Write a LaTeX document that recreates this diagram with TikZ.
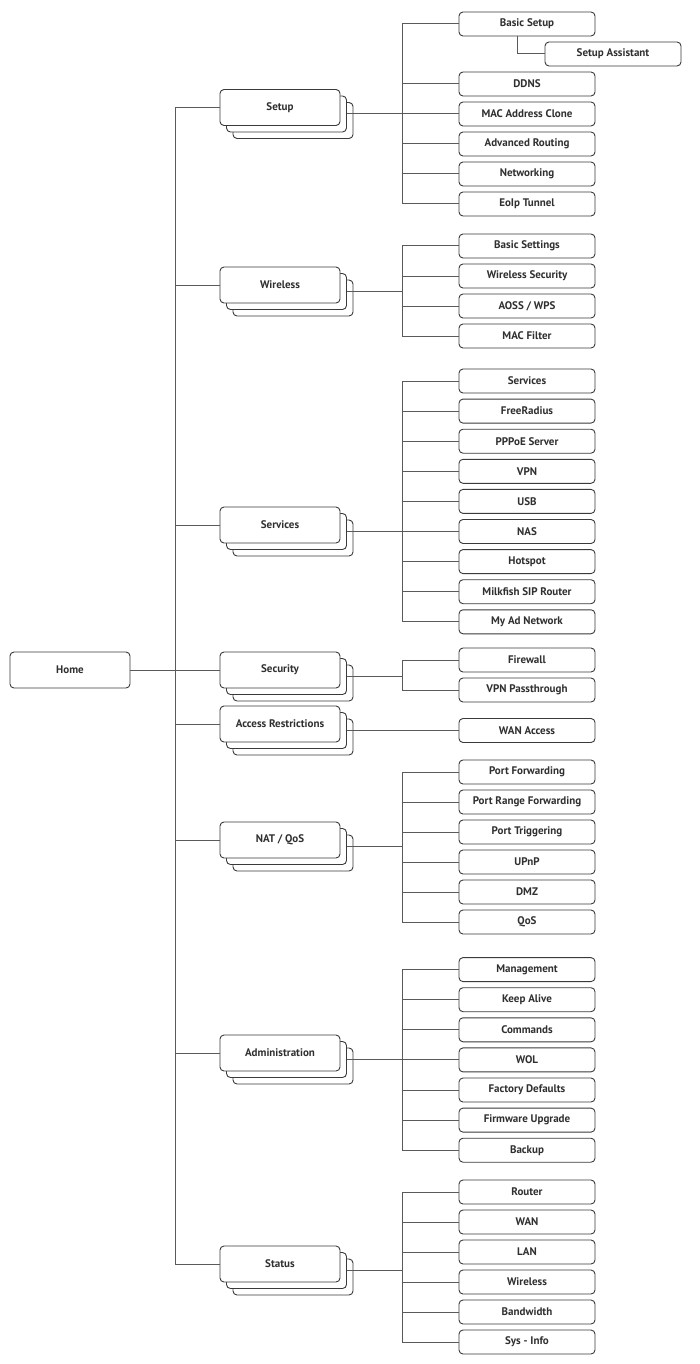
\documentclass[tikz,border=0pt]{standalone}
\usepackage{fontspec}
\setmainfont{PT Sans}
\usetikzlibrary{shadows}
\definecolor{linegray}{HTML}{5A5A5A}
\definecolor{boxgray}{HTML}{3A3A3A}
\definecolor{textgray}{HTML}{303030}

\begin{document}
\begin{tikzpicture}[x=1pt,y=-1pt,
  conn/.style={draw=linegray,line width=1pt},
  item/.style={draw=boxgray,line width=0.9pt,rounded corners=4pt,fill=white,
    minimum width=136pt,minimum height=24pt,inner sep=0pt,text=textgray,
    font=\fontsize{11}{12}\selectfont\bfseries},
  top/.style={item,minimum width=120pt,minimum height=36pt},
  group/.style={top,
    copy shadow={shadow xshift=13pt,shadow yshift=-13pt,draw=boxgray,fill=white,line width=0.9pt},
    copy shadow={shadow xshift=6.5pt,shadow yshift=-6.5pt,draw=boxgray,fill=white,line width=0.9pt}},
]
\useasboundingbox (0,0) rectangle (699,1364);

\node[top] (home) at (70,670) {Home};
\coordinate (trunk) at (175,670);

\foreach \name/\txt/\y in {setup/Setup/107.5, wireless/Wireless/285, services/Services/525,
    security/Security/670, access/Access Restrictions/724, nat/{NAT / QoS}/840,
    admin/Administration/1053, status/Status/1264} {
  \node[group] (\name) at (280,\y) {\txt};
  \coordinate (\name-bus) at (402,\y+6.5);
  \draw[conn] ([xshift=6.5pt,yshift=-6.5pt]\name.east) -- (\name-bus);
  \draw[conn] (trunk) |- (\name.west);
}
\draw[conn] (home) -- (security);

% setup
\foreach \txt/\y [count=\i] in {Basic Setup/24, DDNS/84, MAC Address Clone/114,
    Advanced Routing/144, Networking/174, EoIp Tunnel/204} {
  \node[item] (setup-\i) at (527,\y) {\txt};
  \draw[conn] (setup-bus) |- (setup-\i.west);
}
\node[item] (assistant) at (613,54) {Setup Assistant};
\draw[conn] ([xshift=-10pt]setup-1.south) |- (assistant.west);

% wireless
\foreach \txt [count=\i] in {Basic Settings, Wireless Security, {AOSS / WPS}, MAC Filter} {
  \node[item] (wireless-\i) at (527,216+30*\i) {\txt};
  \draw[conn] (wireless-bus) |- (wireless-\i.west);
}

% services
\foreach \txt [count=\i] in {Services, FreeRadius, PPPoE Server, VPN, USB, NAS, Hotspot,
    Milkfish SIP Router, My Ad Network} {
  \node[item] (services-\i) at (527,350.9+30.1*\i) {\txt};
  \draw[conn] (services-bus) |- (services-\i.west);
}

% security
\foreach \txt [count=\i] in {Firewall, VPN Passthrough} {
  \node[item] (security-\i) at (527,630+30*\i) {\txt};
  \draw[conn] (security-bus) |- (security-\i.west);
}

% access restrictions
\node[item] (access-1) at (527,730.5) {WAN Access};
\draw[conn] (access-bus) -- (access-1);

% nat / qos
\foreach \txt [count=\i] in {Port Forwarding, Port Range Forwarding, Port Triggering, UPnP,
    DMZ, QoS} {
  \node[item] (nat-\i) at (527,742+30*\i) {\txt};
  \draw[conn] (nat-bus) |- (nat-\i.west);
}

% administration
\foreach \txt [count=\i] in {Management, Keep Alive, Commands, WOL, Factory Defaults,
    Firmware Upgrade, Backup} {
  \node[item] (admin-\i) at (527,939.5+30.1*\i) {\txt};
  \draw[conn] (admin-bus) |- (admin-\i.west);
}

% status
\foreach \txt [count=\i] in {Router, WAN, LAN, Wireless, Bandwidth, Sys - Info} {
  \node[item] (status-\i) at (527,1162+30*\i) {\txt};
  \draw[conn] (status-bus) |- (status-\i.west);
}
\end{tikzpicture}
\end{document}
